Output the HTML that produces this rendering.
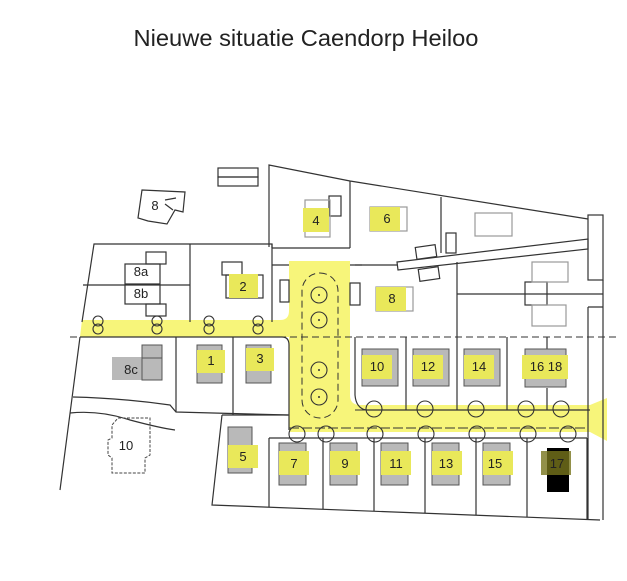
<!DOCTYPE html>
<html><head><meta charset="utf-8"><style>
html,body{margin:0;padding:0;background:#fff;width:627px;height:581px;overflow:hidden}
svg{display:block}
text{font-family:"Liberation Sans",sans-serif;fill:#222}
</style></head><body>
<svg width="627" height="581" viewBox="0 0 627 581">
<text x="306" y="46" font-size="23" text-anchor="middle" textLength="345" lengthAdjust="spacingAndGlyphs">Nieuwe situatie Caendorp Heiloo</text>
<g fill="#f7f57a">
<path d="M82 320 H280 Q289 320 289 311 V261 H350 V395 Q350 405 360 405 H590 L607 398 V441 L590 432 H289 V337 H80 Z"/>
</g>
<g fill="none" stroke="#333" stroke-width="1.2">
<rect x="218" y="168" width="40" height="9"/><rect x="218" y="177" width="40" height="9"/>
<path d="M142 190 L185 192 L183 212 L175 210 L167 224 L148 221 L138 218 Z"/>
<path d="M165 200 L176 198 M165 204 L173 210"/>
<path d="M269 247 V165 L350 181 L588 219"/>
<path d="M350 181 V248 M441 197 V253 M350 265 H397"/>
<rect x="588" y="215" width="15" height="65"/>
<path d="M603 280 V520 M588 307 V520 M588 307 H603"/>
<path d="M397 262 L588 239 L588 249 L398 270 Z"/>
<rect x="416" y="246" width="20" height="12" transform="rotate(-8 426 252)"/>
<rect x="419" y="268" width="20" height="12" transform="rotate(-8 429 274)"/>
<rect x="446" y="233" width="10" height="20"/>
<path d="M457 262 V337 M457 294 H603"/>
<rect x="525" y="282" width="22" height="23"/>
<path d="M82 322 L94 244 H272 V322 M190 244 V322 M83 285 H190"/>
<rect x="125" y="264" width="35" height="40"/><path d="M125 284 H160"/>
<rect x="146" y="252" width="20" height="12"/><rect x="146" y="304" width="20" height="12"/>
<rect x="222" y="262" width="20" height="13"/><rect x="226" y="275" width="37" height="23"/>
<path d="M272 248 H350 M272 265 H289 M272 248 V244"/>
<rect x="280" y="280" width="9" height="22"/><rect x="350" y="283" width="10" height="22"/>
<path d="M355 265 H362"/>
<rect x="329" y="196" width="12" height="20"/>
<path d="M80 337 L60 490 M176 337 V412 M233 337 V415"/>
<path d="M73 397 Q120 398 170 405 L176 412 L288 415"/>
<path d="M70 413 Q100 410 130 420 Q160 428 175 430"/>
<path d="M222 415 L212 505 L600 520 M222 415 H289"/>
<path d="M269 438 V507 M323 438 V509 M374 438 V511 M425 438 V513 M476 438 V515 M527 438 V517 M587 438 V519"/>
<path d="M269 438 H587"/>
<path d="M355 337 V395 Q356 408 366 410 H590 M406 337 V410 M457 337 V410 M507 337 V410 M547 337 V350 M547 388 V410"/>
<path d="M80 337 H282 Q289 337 289 345 V430" />
</g>
<path d="M70 337 H618" stroke="#333" stroke-width="1" stroke-dasharray="7 4" fill="none"/>
<path d="M355 410 H588 M289 428 H588" stroke="#333" stroke-width="1" stroke-dasharray="10 3" fill="none"/>
<rect x="302" y="273" width="36" height="145" rx="18" fill="none" stroke="#333" stroke-dasharray="7 4"/>
<g fill="none" stroke="#333" stroke-width="1.1">
<circle cx="319" cy="295" r="8"/><circle cx="319" cy="320" r="8"/><circle cx="319" cy="370" r="8"/><circle cx="319" cy="397" r="8"/>
<circle cx="297" cy="434" r="8"/><circle cx="326" cy="434" r="8"/><circle cx="375" cy="434" r="8"/><circle cx="426" cy="434" r="8"/><circle cx="477" cy="434" r="8"/><circle cx="528" cy="434" r="8"/><circle cx="568" cy="434" r="8"/>
<circle cx="374" cy="409" r="8"/><circle cx="425" cy="409" r="8"/><circle cx="476" cy="409" r="8"/><circle cx="526" cy="409" r="8"/><circle cx="561" cy="409" r="8"/>
<circle cx="98" cy="321" r="5"/><circle cx="98" cy="329" r="5"/><circle cx="157" cy="321" r="5"/><circle cx="157" cy="329" r="5"/>
<circle cx="209" cy="321" r="5"/><circle cx="209" cy="329" r="5"/><circle cx="258" cy="321" r="5"/><circle cx="258" cy="329" r="5"/>
</g>
<g fill="#333"><circle cx="319" cy="295" r="1"/><circle cx="319" cy="320" r="1"/><circle cx="319" cy="370" r="1"/><circle cx="319" cy="397" r="1"/></g>
<g fill="none" stroke="#999" stroke-width="1.2">
<rect x="305" y="200" width="25" height="37"/><rect x="370" y="207" width="37" height="24"/><rect x="376" y="287" width="37" height="24"/>
<rect x="475" y="213" width="37" height="23"/><rect x="532" y="262" width="36" height="20"/><rect x="532" y="305" width="34" height="21"/>
</g>
<g fill="#b9b9b9" stroke="#555" stroke-width="1">
<rect x="112" y="357" width="30" height="23" stroke="none"/><rect x="142" y="345" width="20" height="35"/><path d="M142 358 H162"/>
<rect x="197" y="345" width="25" height="38"/><rect x="246" y="345" width="25" height="38"/>
<rect x="228" y="427" width="24" height="46"/>
<rect x="279" y="443" width="27" height="42"/><rect x="330" y="443" width="27" height="42"/><rect x="381" y="443" width="27" height="42"/><rect x="432" y="443" width="27" height="42"/><rect x="483" y="443" width="27" height="42"/>
<rect x="362" y="349" width="36" height="37"/><rect x="413" y="349" width="36" height="37"/><rect x="464" y="349" width="36" height="37"/><rect x="525" y="349" width="41" height="38"/>
</g>
<rect x="547" y="448" width="22" height="44" fill="#000"/>
<g fill="#e9e85a">
<rect x="303" y="208" width="26" height="24"/><rect x="370" y="207" width="30" height="24"/><rect x="376" y="287" width="30" height="24"/>
<rect x="229" y="274" width="29" height="24"/>
<rect x="197" y="350" width="28" height="23"/><rect x="246" y="348" width="28" height="23"/>
<rect x="228" y="445" width="30" height="23"/>
<rect x="279" y="451" width="30" height="24"/><rect x="330" y="451" width="30" height="24"/><rect x="381" y="451" width="30" height="24"/><rect x="432" y="451" width="30" height="24"/><rect x="483" y="451" width="30" height="24"/>
<rect x="362" y="355" width="30" height="24"/><rect x="413" y="355" width="30" height="24"/><rect x="464" y="355" width="30" height="24"/><rect x="522" y="355" width="46" height="24"/>
</g>
<rect x="541" y="451" width="30" height="24" fill="#77741c" opacity="0.8"/>
<path d="M118 418 H150 V455 L145 458 V473 H112 V458 L108 455 V440 L112 438 V425 Z" fill="none" stroke="#444" stroke-dasharray="3 1.5"/>
<g font-size="13" text-anchor="middle">
<text x="155" y="210">8</text>
<text x="141" y="276">8a</text><text x="141" y="298">8b</text>
<text x="243" y="291">2</text><text x="316" y="225">4</text><text x="387" y="223">6</text><text x="392" y="303">8</text>
<text x="131" y="374">8c</text><text x="211" y="365">1</text><text x="260" y="363">3</text>
<text x="126" y="450">10</text><text x="243" y="461">5</text>
<text x="294" y="468">7</text><text x="345" y="468">9</text><text x="396" y="468">11</text><text x="446" y="468">13</text><text x="495" y="468">15</text><text x="557" y="468">17</text>
<text x="377" y="371">10</text><text x="428" y="371">12</text><text x="479" y="371">14</text><text x="546" y="371">16 18</text>
</g>
</svg>
</body></html>
